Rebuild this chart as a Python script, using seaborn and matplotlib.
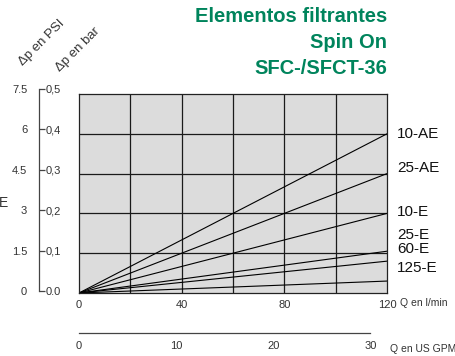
import matplotlib
matplotlib.use("Agg")
import matplotlib.pyplot as plt
import matplotlib.transforms as mtransforms
import pandas as pd
import seaborn as sns

# Daten
flow_lmin = [0, 120]
elements = ["10-AE", "25-AE", "10-E", "25-E", "60-E", "125-E"]
dp_bar_at_120 = [0.40, 0.30, 0.20, 0.105, 0.08, 0.03]
label_pos = [0.40, 0.315, 0.2025, 0.145, 0.11, 0.0625]

bar_ticks = [0, 0.1, 0.2, 0.3, 0.4, 0.5]
bar_labels = ["0.0", "0,1", "0,2", "0,3", "0,4", "0,5"]
psi_ticks = [0, 1.5, 3, 4.5, 6, 7.5]
psi_labels = ["0", "1.5", "3", "4.5", "6", "7.5"]
lmin_ticks = [0, 40, 80, 120]
gpm_ticks = [0, 10, 20, 30]
LMIN_PER_GPM = 3.785

green = "#00845c"
txt = "#333333"
W, H = 455, 356

sns.set_style("white")
plt.rcParams["font.family"] = ["Liberation Sans", "DejaVu Sans"]

rows = []
for name, v in zip(elements, dp_bar_at_120):
    rows.append({"element": name, "Q": flow_lmin[0], "dp": 0.0})
    rows.append({"element": name, "Q": flow_lmin[1], "dp": v})
df = pd.DataFrame(rows)

fig = plt.figure(figsize=(W / 100, H / 100), dpi=100)

# Hauptdiagramm
ax = fig.add_axes([79 / W, 1 - 293 / H, 308 / W, 199 / H])
ax.set_facecolor("#dcdcdc")
for x in range(20, 120, 20):
    ax.axvline(x, color="#1a1a1a", lw=0.9, zorder=1)
for y in [0.1, 0.2, 0.3, 0.4]:
    ax.axhline(y, color="#1a1a1a", lw=0.9, zorder=1)
sns.lineplot(data=df, x="Q", y="dp", units="element", estimator=None,
             color="black", lw=0.8, ax=ax, legend=False, zorder=2)
ax.set_xlim(0, 120)
ax.set_ylim(0, 0.5)
ax.set_xticks(lmin_ticks)
ax.set_yticks([])
ax.set_xlabel("")
ax.set_ylabel("")
ax.tick_params(axis="x", length=0, pad=5, labelsize=8, labelcolor=txt)
for s in ax.spines.values():
    s.set_color("#222222")
    s.set_linewidth(0.9)

trans = mtransforms.blended_transform_factory(ax.transAxes, ax.transData)
for name, y in zip(elements, label_pos):
    ax.text(1.033, y, name, transform=trans, ha="left", va="center",
            fontsize=11, color="#111111")

fig.text(400 / W, 1 - 303 / H, "Q en l/min", ha="left", va="center",
         fontsize=7.5, color=txt)

# Skala bar
axb = fig.add_axes([30 / W, 1 - 291 / H, 9 / W, 202 / H])
axb.set_ylim(0, 0.5)
axb.set_xticks([])
axb.patch.set_alpha(0)

# Skala PSI (gleiche Position, Beschriftung links)
axp = axb.twinx()
axp.set_ylim(0, 7.5)
axp.set_yticks(psi_ticks)
axp.set_yticklabels(psi_labels)
axp.yaxis.tick_left()
axp.patch.set_alpha(0)
for s in axp.spines.values():
    s.set_visible(False)
axp.tick_params(axis="y", length=0, pad=2, labelsize=8, labelcolor=txt)

axb.set_yticks(bar_ticks)
axb.set_yticklabels(bar_labels)
axb.yaxis.tick_right()
for k in ["top", "bottom", "left"]:
    axb.spines[k].set_visible(False)
axb.spines["right"].set_visible(True)
axb.spines["right"].set_color("#444444")
axb.spines["right"].set_linewidth(0.9)
axb.tick_params(axis="y", which="both", left=False, labelleft=False,
                right=True, labelright=True, direction="out", length=4,
                width=0.9, color="#444444", pad=1, labelsize=8, labelcolor=txt)

# Skala US GPM
axg = fig.add_axes([79 / W, 1 - 333 / H, 308 / W, 0.001])
axg.set_xlim(0, 120 / LMIN_PER_GPM)
axg.set_xticks(gpm_ticks)
axg.set_yticks([])
axg.patch.set_alpha(0)
for k in ["top", "left", "right"]:
    axg.spines[k].set_visible(False)
axg.spines["bottom"].set_bounds(0, 30)
axg.spines["bottom"].set_color("#444444")
axg.spines["bottom"].set_linewidth(0.9)
axg.tick_params(axis="x", direction="in", length=5, width=0.9, color="#444444",
                pad=6, labelsize=8, labelcolor=txt)
fig.text(390 / W, 1 - 349 / H, "Q en US GPM", ha="left", va="center",
         fontsize=7.5, color=txt)

# Achsentitel
fig.text(42 / W, 1 - 43 / H, "Δp en PSI", rotation=45, ha="center", va="center",
         fontsize=9.5, color=txt)
fig.text(78 / W, 1 - 50 / H, "Δp en bar", rotation=45, ha="center", va="center",
         fontsize=9.5, color=txt)
fig.text(-1 / W, 1 - 203 / H, "E", ha="left", va="center", fontsize=10, color=txt)

# Titel
for t, y in [("Elementos filtrantes", 16), ("Spin On", 42), ("SFC-/SFCT-36", 69)]:
    fig.text(387 / W, 1 - y / H, t, ha="right", va="center", fontsize=14.5,
             fontweight="bold", color=green)

fig.savefig("out.png", dpi=100)
